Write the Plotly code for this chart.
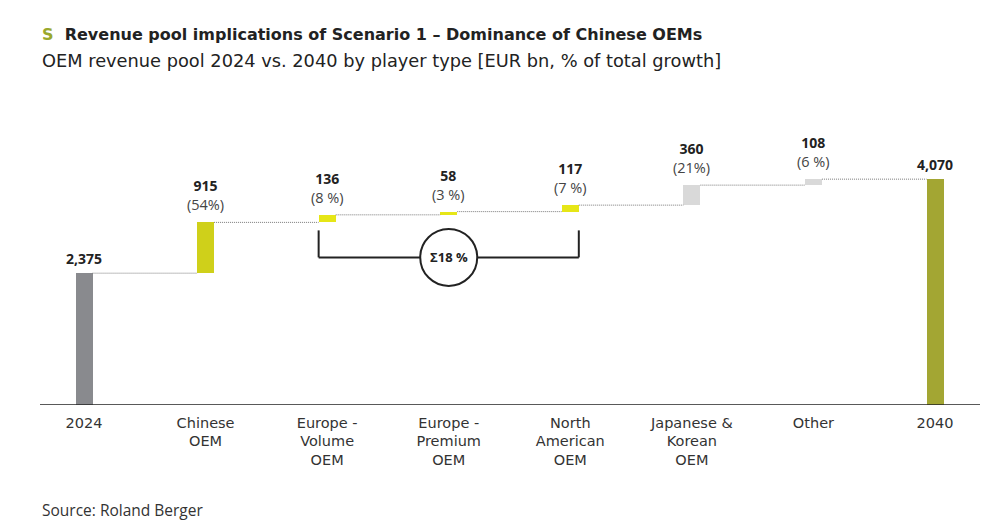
import plotly.graph_objects as go

# ---- data ----
categories = ["2024", "Chinese<br>OEM", "Europe -<br>Volume<br>OEM", "Europe -<br>Premium<br>OEM",
              "North<br>American<br>OEM", "Japanese &<br>Korean<br>OEM", "Other", "2040"]
start_value = 2375
end_value = 4070
deltas = [915, 136, 58, 117, 360, 108]
delta_labels = ["915", "136", "58", "117", "360", "108"]
growth_pct = [54, 8, 3, 7, 21, 6]
total_labels = ["2,375", "4,070"]

bar_colors = ["#898a8e", "#cfd01a", "#e6e617", "#e6e617", "#e6e617", "#d9d9d9", "#d9d9d9", "#a3a633"]

FONT = "Open Sans"
WIDE = "DejaVu Sans"
TXT = "#222222"

# ---- derived waterfall geometry ----
x = list(range(len(categories)))
bases = [0]
heights = [start_value]
cum = start_value
for d in deltas:
    bases.append(cum)
    heights.append(d)
    cum += d
bases.append(0)
heights.append(end_value)
tops = [b + h for b, h in zip(bases, heights)]

BW = 0.14
fig = go.Figure()
fig.add_trace(go.Bar(x=x, y=heights, base=bases, width=BW, marker=dict(color=bar_colors, line=dict(width=0)),
                     hoverinfo="skip", showlegend=False))

# connectors
cx, cy = [], []
for i in range(len(x) - 1):
    level = tops[i]
    cx += [x[i] + BW / 2, x[i + 1] - BW / 2, None]
    cy += [level, level, None]
fig.add_trace(go.Scatter(x=cx, y=cy, mode="lines", line=dict(color="#7a7a7a", width=1, dash="1px,1px"),
                         hoverinfo="skip", showlegend=False))

annotations = []
# totals
for i, lab in zip([0, len(x) - 1], total_labels):
    annotations.append(dict(x=x[i], y=tops[i], text=f"<b>{lab}</b>", showarrow=False, yanchor="middle",
                            yshift=15, font=dict(size=14, color=TXT, family=FONT)))
# deltas: value (bold) over share of growth
for j, (lab, p) in enumerate(zip(delta_labels, growth_pct)):
    i = j + 1
    ptxt = f"({p}%)" if p >= 10 else f"({p} %)"
    annotations.append(dict(x=x[i], y=tops[i], showarrow=False, yanchor="middle", yshift=27,
                            text=f"<b style='font-size:14px'>{lab}</b><br><span style='font-size:14.5px;color:#444444'>{ptxt}</span>",
                            font=dict(size=14.5, color=TXT, family=FONT)))

# bracket for Europe + North America
g0, g1 = 2, 4
level = bases[g0]
xl = x[g0] - BW / 2
xr = x[g1] + BW / 2
shapes = [
    dict(type="line", xref="x", yref="y", ysizemode="pixel", yanchor=level, x0=xl, x1=xl, y0=-8, y1=-35,
         line=dict(color="#222222", width=2)),
    dict(type="line", xref="x", yref="y", ysizemode="pixel", yanchor=level, x0=xr, x1=xr, y0=-8, y1=-35,
         line=dict(color="#222222", width=2)),
    dict(type="line", xref="x", yref="y", ysizemode="pixel", yanchor=level, x0=xl, x1=xr, y0=-35, y1=-35,
         line=dict(color="#222222", width=2)),
    dict(type="circle", xref="x", yref="y", xsizemode="pixel", ysizemode="pixel", xanchor=(g0 + g1) / 2,
         yanchor=level, x0=-28.5, x1=28.5, y0=-35 - 28.5, y1=-35 + 28.5,
         line=dict(color="#222222", width=2), fillcolor="white"),
    # baseline
    dict(type="line", xref="paper", yref="y", x0=0, x1=1, y0=0, y1=0, line=dict(color="#222222", width=1.5)),
]
sum_pct = sum(growth_pct[g0 - 1:g1])
annotations.append(dict(x=(g0 + g1) / 2, y=level, yshift=-35, text=f"<b>Σ{sum_pct} %</b>", showarrow=False,
                        font=dict(size=13, color=TXT, family=FONT)))

# titles
annotations.append(dict(xref="paper", yref="paper", x=0, y=1, xanchor="left", yanchor="middle",
                        text="<b><span style='color:#9aa82c'>S</span>  Revenue pool implications of Scenario 1 – Dominance of Chinese OEMs</b>",
                        showarrow=False, yshift=100 - 34, font=dict(size=16, color=TXT, family=WIDE)))
annotations.append(dict(xref="paper", yref="paper", x=0, y=1, xanchor="left", yanchor="middle",
                        text="OEM revenue pool 2024 vs. 2040 by player type [EUR bn, % of total growth]",
                        showarrow=False, yshift=100 - 60, font=dict(size=17.8, color=TXT, family=WIDE)))
annotations.append(dict(xref="paper", yref="paper", x=0, y=0, xanchor="left", yanchor="middle",
                        text="Source: Roland Berger", showarrow=False, yshift=-(510 - 405),
                        font=dict(size=15.5, color="#333333", family=FONT)))

fig.update_layout(
    width=1000, height=528,
    margin=dict(l=40, r=20, t=100, b=123),
    plot_bgcolor="white", paper_bgcolor="white",
    xaxis=dict(range=[-0.362, 7.37], tickmode="array", tickvals=x, ticktext=categories, showgrid=False,
               zeroline=False, showline=False, ticks="", ticklabelstandoff=7,
               tickfont=dict(size=14.5, color="#333333", family=WIDE)),
    yaxis=dict(range=[0, 5495], visible=False),
    shapes=shapes,
    annotations=annotations,
    bargap=0,
)

fig.write_html("out.html", config={"displayModeBar": False},
               post_script="document.body.style.margin='0px';")
